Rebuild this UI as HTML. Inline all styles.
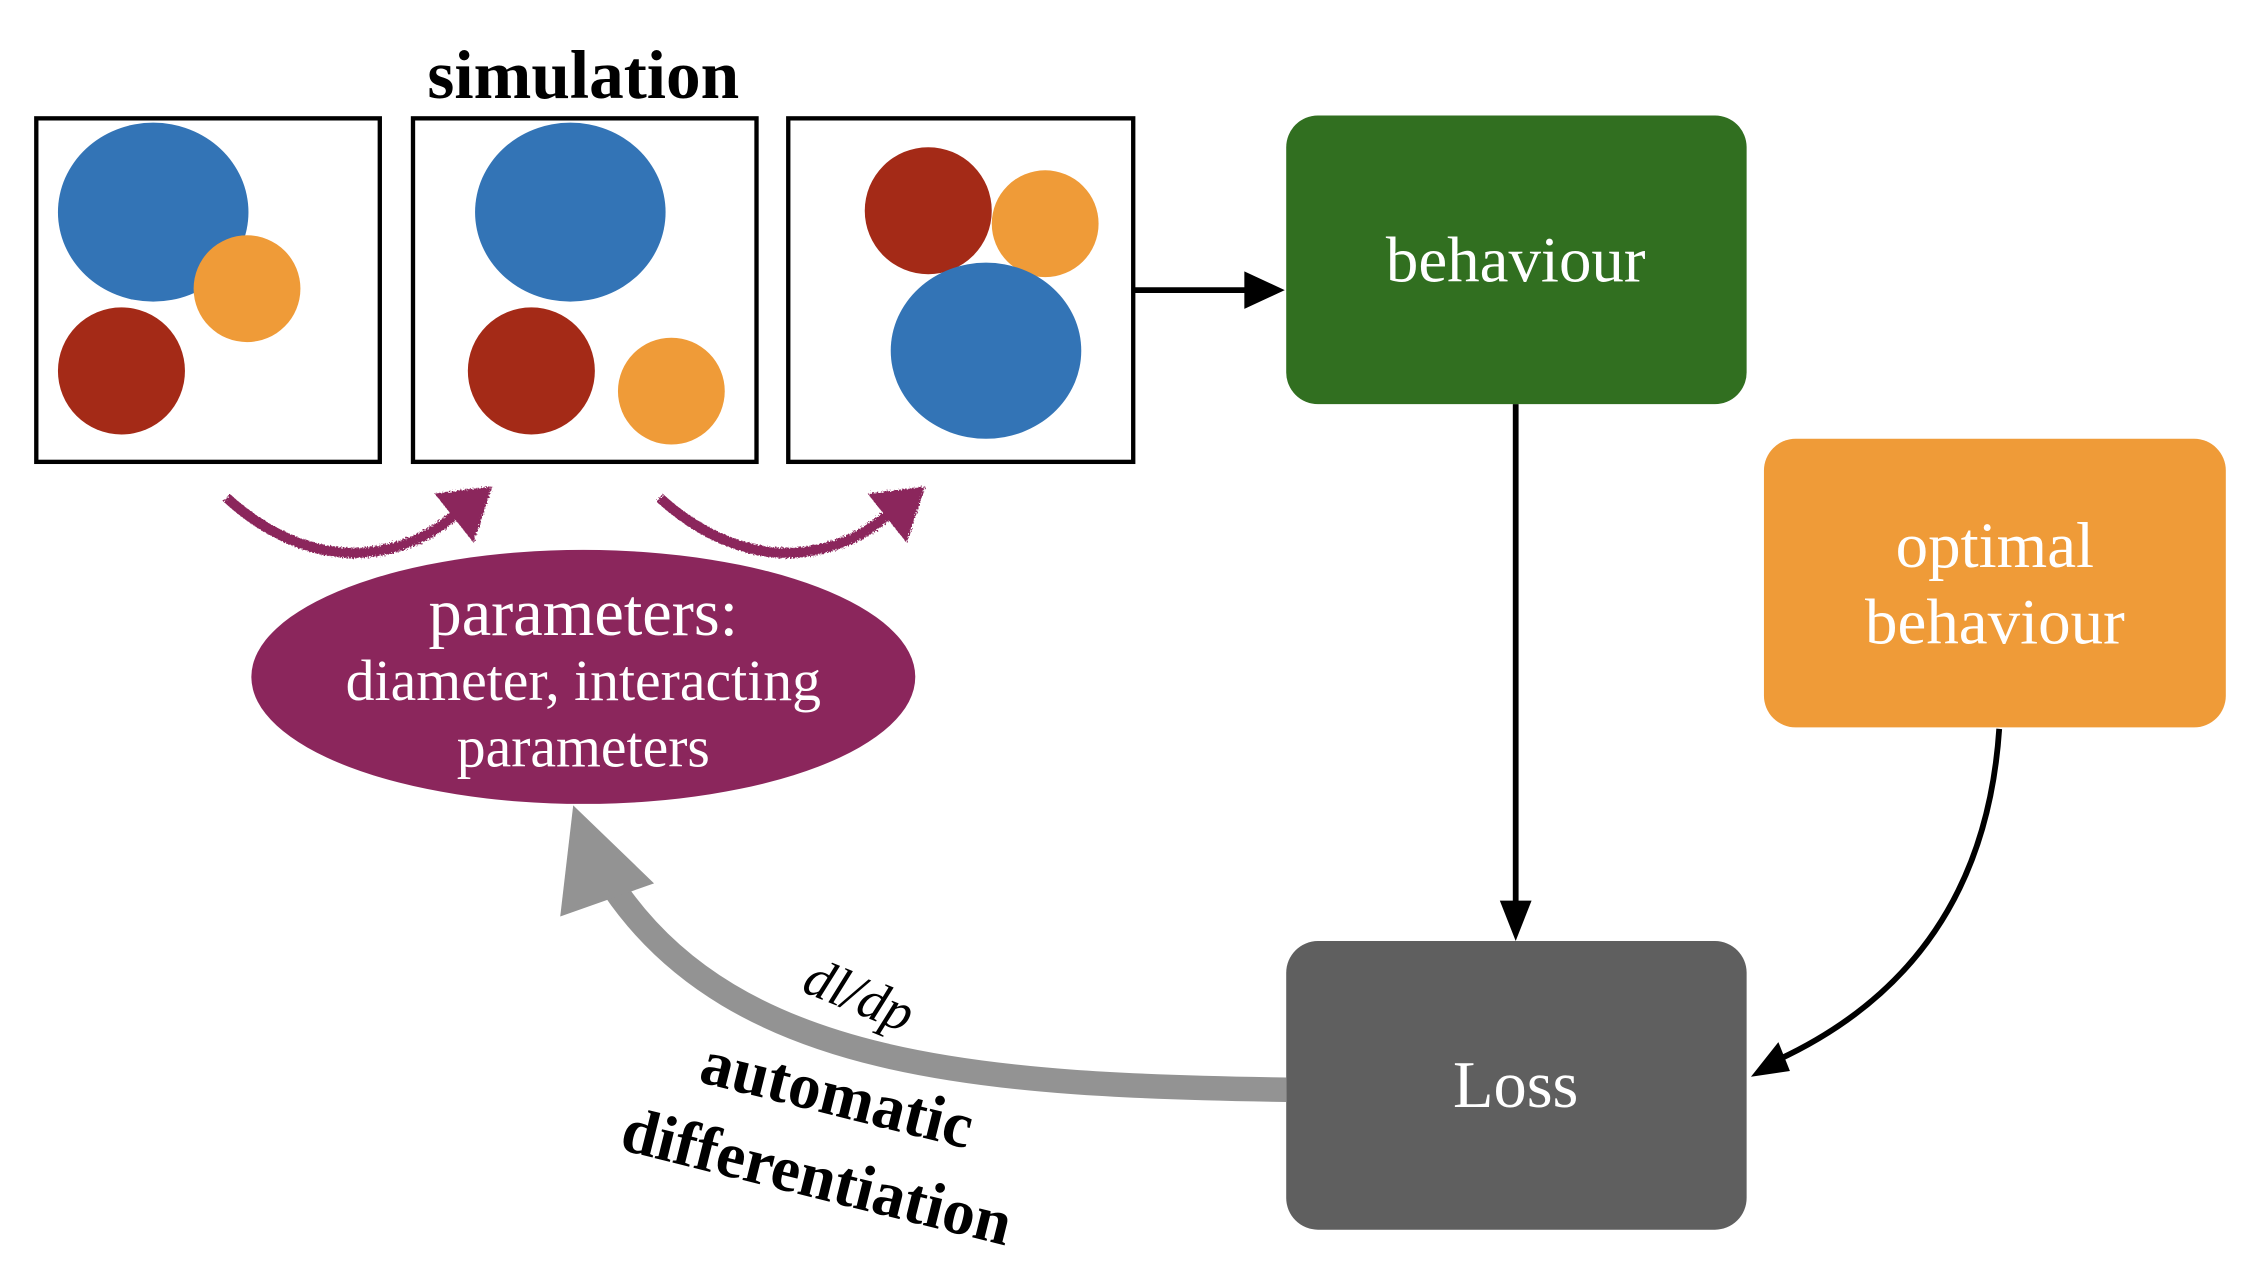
<!DOCTYPE html>
<html><head><meta charset="utf-8"><style>
html,body{margin:0;padding:0;background:#fff;}
svg{display:block;}
text{font-family:"Liberation Serif",serif;}
</style></head><body>
<svg width="2252" height="1286" viewBox="0 0 1560 891" xmlns="http://www.w3.org/2000/svg">
<defs>
<filter id="rough" x="-10%" y="-10%" width="120%" height="120%">
<feTurbulence type="fractalNoise" baseFrequency="0.9" numOctaves="2" result="n"/>
<feDisplacementMap in="SourceGraphic" in2="n" scale="4"/>
</filter>
</defs>
<text x="404" y="68" font-size="48" font-weight="bold" text-anchor="middle">simulation</text>
<rect x="25" y="82" width="238" height="238" fill="none" stroke="#000" stroke-width="3"/>
<rect x="286" y="82" width="238" height="238" fill="none" stroke="#000" stroke-width="3"/>
<rect x="546" y="82" width="239" height="238" fill="none" stroke="#000" stroke-width="3"/>
<ellipse cx="106" cy="147" rx="66" ry="62" fill="#3374b6"/>
<circle cx="171" cy="200" r="37" fill="#ef9b38"/>
<circle cx="84" cy="257" r="44" fill="#a42a17"/>
<ellipse cx="395" cy="147" rx="66" ry="62" fill="#3374b6"/>
<circle cx="368" cy="257" r="44" fill="#a42a17"/>
<circle cx="465" cy="271" r="37" fill="#ef9b38"/>
<circle cx="643" cy="146" r="44" fill="#a42a17"/>
<circle cx="724" cy="155" r="37" fill="#ef9b38"/>
<ellipse cx="683" cy="243" rx="66" ry="61" fill="#3374b6"/>
<line x1="785" y1="201" x2="866" y2="201" stroke="#000" stroke-width="4"/>
<polygon points="890,201 862,188 862,214" fill="#000"/>
<rect x="891" y="80" width="319" height="200" rx="22" fill="#316f20"/>
<text x="1050" y="195" font-size="45" fill="#fff" text-anchor="middle">behaviour</text>
<rect x="1222" y="304" width="320" height="200" rx="22" fill="#ef9b38"/>
<text x="1382" y="393" font-size="45" fill="#fff" text-anchor="middle">optimal</text>
<text x="1382" y="446" font-size="45" fill="#fff" text-anchor="middle">behaviour</text>
<rect x="891" y="652" width="319" height="200" rx="22" fill="#5f5f5f"/>
<text x="1050" y="767" font-size="46" fill="#fff" text-anchor="middle">Loss</text>
<line x1="1050" y1="280" x2="1050" y2="628" stroke="#000" stroke-width="4"/>
<polygon points="1050,652 1039,624 1061,624" fill="#000"/>
<path d="M1385,505 C1378,610 1330,690 1228,736" fill="none" stroke="#000" stroke-width="4"/>
<polygon points="1213,746 1232,722 1240,742" fill="#000"/>
<path d="M891,755 C680,752 510,740 425,615" fill="none" stroke="#939393" stroke-width="17"/>
<polygon points="397,558 388,635 453,612" fill="#939393"/>
<ellipse cx="404" cy="469" rx="230" ry="88" fill="#8b265c"/>
<text x="404" y="440" font-size="46" fill="#fff" text-anchor="middle">parameters:</text>
<text x="404" y="485" font-size="40" fill="#fff" text-anchor="middle">diameter, interacting</text>
<text x="404" y="531" font-size="40" fill="#fff" text-anchor="middle">parameters</text>
<g filter="url(#rough)" fill="#8b265c">
<path d="M157,345 C190,375 230,390 270,380 C295,374 310,362 322,350" fill="none" stroke="#8b265c" stroke-width="7"/>
<polygon points="301,342 341,337 328,376"/>
<path d="M457,345 C490,375 530,390 570,380 C595,374 610,362 622,350" fill="none" stroke="#8b265c" stroke-width="7"/>
<polygon points="601,342 641,337 628,376"/>
</g>
<text x="595" y="702" font-size="38" font-style="italic" text-anchor="middle" transform="rotate(22 595 690)">dl/dp</text>
<text x="580" y="773" font-size="45" font-weight="bold" text-anchor="middle" transform="rotate(14 580 758)">automatic</text>
<text x="566" y="830" font-size="45" font-weight="bold" text-anchor="middle" transform="rotate(14 566 815)">differentiation</text>
</svg>
</body></html>
